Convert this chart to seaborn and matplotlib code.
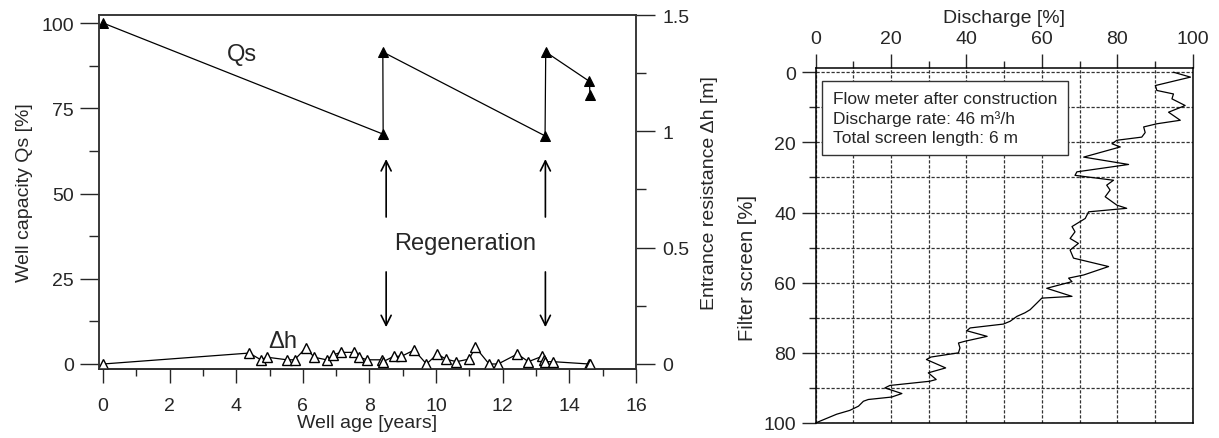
import matplotlib
matplotlib.use("Agg")
import matplotlib.pyplot as plt
from matplotlib.ticker import FixedLocator, MultipleLocator, FuncFormatter
import pandas as pd
import seaborn as sns

# Well capacity Qs [%] before / after each regeneration
qs_age = [0.0, 8.41, 8.40, 13.27, 13.29, 14.60, 14.62]
qs_capacity = [100.0, 67.4, 91.5, 66.9, 91.5, 82.9, 78.9]

# Entrance resistance dh [m]
dh_age = [0.00, 4.39, 4.74, 4.93, 5.53, 5.75, 6.09, 6.34, 6.71, 6.91, 7.13, 7.54,
          7.69, 7.92, 8.39, 8.41, 8.73, 8.96, 9.34, 9.71, 10.04, 10.29, 10.61,
          10.99, 11.18, 11.59, 11.86, 12.44, 12.77, 13.18, 13.25, 13.28, 13.51,
          14.59, 14.61]
dh_value = [0.000, 0.047, 0.018, 0.029, 0.018, 0.018, 0.069, 0.029, 0.018, 0.039,
            0.050, 0.050, 0.030, 0.018, 0.018, 0.010, 0.033, 0.033, 0.060, 0.000,
            0.043, 0.021, 0.010, 0.021, 0.072, 0.000, 0.000, 0.043, 0.010, 0.033,
            0.017, 0.010, 0.010, 0.000, 0.000]

# Regeneration dates [years]
regen_age = [8.5, 13.28]

# Flow meter profile: cumulative discharge [%] along the filter screen [%]
screen_pos = [0.0, 1.4, 3.8, 5.2, 6.2, 7.6, 8.3, 9.5, 11.4, 13.7, 14.7, 15.6, 17.2,
              18.5, 19.4, 20.4, 21.3, 24.2, 26.3, 28.4, 29.4, 30.8, 32.2, 33.6,
              35.5, 37.9, 38.8, 39.8, 41.7, 44.0, 45.5, 47.4, 48.8, 50.7, 53.0,
              55.4, 57.8, 58.7, 59.7, 61.6, 63.9, 64.4, 65.8, 67.7, 68.6, 69.6,
              71.0, 71.8, 72.9, 73.7, 75.3, 76.7, 77.2, 78.6, 80.0, 81.2, 81.9,
              84.3, 85.7, 87.6, 88.1, 89.3, 90.0, 91.6, 92.6, 93.3, 93.8, 95.2,
              96.4, 97.5, 100.0]
discharge = [94.9, 99.4, 90.1, 90.5, 94.9, 94.5, 95.8, 98.0, 93.6, 96.7, 90.5, 87.0,
             87.4, 86.5, 79.9, 78.6, 80.8, 71.1, 83.0, 69.3, 68.8, 79.0, 77.2, 78.1,
             76.8, 79.9, 82.5, 72.4, 71.5, 68.0, 68.8, 67.5, 69.7, 67.5, 68.4,
             77.7, 71.1, 67.1, 68.0, 61.3, 68.0, 60.0, 58.7, 56.9, 55.5, 53.4,
             51.6, 49.8, 41.0, 40.1, 45.5, 39.6, 37.9, 38.3, 37.9, 30.6, 29.4,
             34.5, 29.9, 32.0, 30.3, 19.7, 18.4, 22.9, 20.2, 14.0, 12.7, 11.4,
             9.1, 5.6, 0.0]

box_lines = ["Flow meter after construction",
             "Discharge rate: 46 m³/h",
             "Total screen length: 6 m"]

sns.set_style("ticks")
plt.rcParams["font.family"] = ["Liberation Sans", "DejaVu Sans"]
plt.rcParams["font.size"] = 14

fig = plt.figure(figsize=(12.19, 4.39), dpi=100)
W, H = 1219.0, 439.0

# ---------------- left panel: well history ----------------
ax = fig.add_axes([99 / W, 1 - 370 / H, (636 - 99) / W, (370 - 16) / H])
ax2 = ax.twinx()

qs_df = pd.DataFrame({"age": qs_age, "qs": qs_capacity})
dh_df = pd.DataFrame({"age": dh_age, "dh": dh_value})

sns.lineplot(data=qs_df, x="age", y="qs", sort=False, estimator=None, ax=ax,
             color="black", lw=0.9, marker="^", markersize=7,
             markerfacecolor="black", markeredgecolor="black")
sns.lineplot(data=dh_df, x="age", y="dh", sort=False, estimator=None, ax=ax2,
             color="black", lw=0.9, marker="^", markersize=7,
             markerfacecolor="white", markeredgecolor="black", markeredgewidth=1.0)

ax.set_xlim(-0.12, 16)
ax.set_ylim(-1.47, 102.35)
ax2.set_ylim(-0.0215, 1.5)

ax.xaxis.set_major_locator(MultipleLocator(2))
ax.xaxis.set_minor_locator(FixedLocator([1, 3, 5, 7, 9, 11, 13, 15]))
ax.yaxis.set_major_locator(FixedLocator([0, 25, 50, 75, 100]))
ax.yaxis.set_minor_locator(FixedLocator([12.5, 37.5, 62.5, 87.5]))
ax2.yaxis.set_major_locator(FixedLocator([0, 0.5, 1.0, 1.5]))
ax2.yaxis.set_minor_locator(FixedLocator([0.25, 0.75, 1.25]))
ax2.yaxis.set_major_formatter(FuncFormatter(lambda v, p: f"{v:g}"))

ax.tick_params(axis="y", which="major", length=14, width=1.0, pad=4, labelsize=14)
ax.tick_params(axis="y", which="minor", length=7, width=1.0)
ax.tick_params(axis="x", which="major", length=10, width=1.0, pad=10, labelsize=14)
ax.tick_params(axis="x", which="minor", length=5, width=1.0)
ax2.tick_params(axis="y", which="major", length=14, width=1.0, pad=5, labelsize=14)
ax2.tick_params(axis="y", which="minor", length=7, width=1.0)

for a in (ax, ax2):
    for s in a.spines.values():
        s.set_color("#333333")
        s.set_linewidth(1.1)
ax.spines["bottom"].set_color("black")

ax.set_xlabel("Well age [years]", fontsize=14, labelpad=0)
ax.set_ylabel("Well capacity Qs [%]", fontsize=14, labelpad=6)
ax2.set_ylabel("Entrance resistance \u0394h [m]", fontsize=14, labelpad=8)

ax.text(4.16, 90.9, "Qs", fontsize=17, ha="center", va="center")
ax.text(5.4, 6.8, "\u0394h", fontsize=17, ha="center", va="center")
ax.text(10.88, 35.5, "Regeneration", fontsize=17, ha="center", va="center")

for xr in regen_age:
    ax.annotate("", xy=(xr, 60.1), xytext=(xr, 43.1),
                arrowprops=dict(arrowstyle="->", color="black", lw=1.2,
                                mutation_scale=18, shrinkA=0, shrinkB=0))
    ax.annotate("", xy=(xr, 10.8), xytext=(xr, 27.0),
                arrowprops=dict(arrowstyle="->", color="black", lw=1.2,
                                mutation_scale=18, shrinkA=0, shrinkB=0))

# ---------------- right panel: flow meter profile ----------------
ax3 = fig.add_axes([815.5 / W, 1 - 424 / H, (1192.7 - 815.5) / W, (424 - 69) / H])
prof_df = pd.DataFrame({"discharge": discharge, "screen": screen_pos})
sns.lineplot(data=prof_df, x="discharge", y="screen", sort=False, estimator=None,
             ax=ax3, color="black", lw=0.9)

ax3.set_xlim(0, 100)
ax3.set_ylim(100, -1.2)
ax3.xaxis.tick_top()
ax3.xaxis.set_label_position("top")
ax3.xaxis.set_major_locator(MultipleLocator(20))
ax3.xaxis.set_minor_locator(FixedLocator([10, 30, 50, 70, 90]))
ax3.yaxis.set_major_locator(MultipleLocator(20))
ax3.yaxis.set_minor_locator(FixedLocator([10, 30, 50, 70, 90]))
ax3.tick_params(axis="both", which="major", length=10, width=1.0, labelsize=14)
ax3.tick_params(axis="x", which="major", pad=5)
ax3.tick_params(axis="y", which="major", pad=4)
ax3.tick_params(axis="both", which="minor", length=5, width=1.0)
ax3.grid(True, which="both", axis="both", color="#333333", lw=0.9,
         linestyle=(0, (2.6, 1.4)))
for s in ax3.spines.values():
    s.set_color("black")
    s.set_linewidth(1.1)
ax3.set_xlabel("Discharge [%]", fontsize=14, labelpad=6)
ax3.set_ylabel("Filter screen [%]", fontsize=14.5)
ax3.yaxis.set_label_coords((757 - 815.5) / (1192.7 - 815.5), 1 - (268 - 69) / (424 - 69))

ax3.text(4.6, 13.0, "\n".join(box_lines), fontsize=12.5, ha="left", va="center",
         linespacing=1.3, zorder=5,
         bbox=dict(boxstyle="square,pad=0.6", fc="white", ec="#333333", lw=1.0))

fig.savefig("out.png", dpi=100)
